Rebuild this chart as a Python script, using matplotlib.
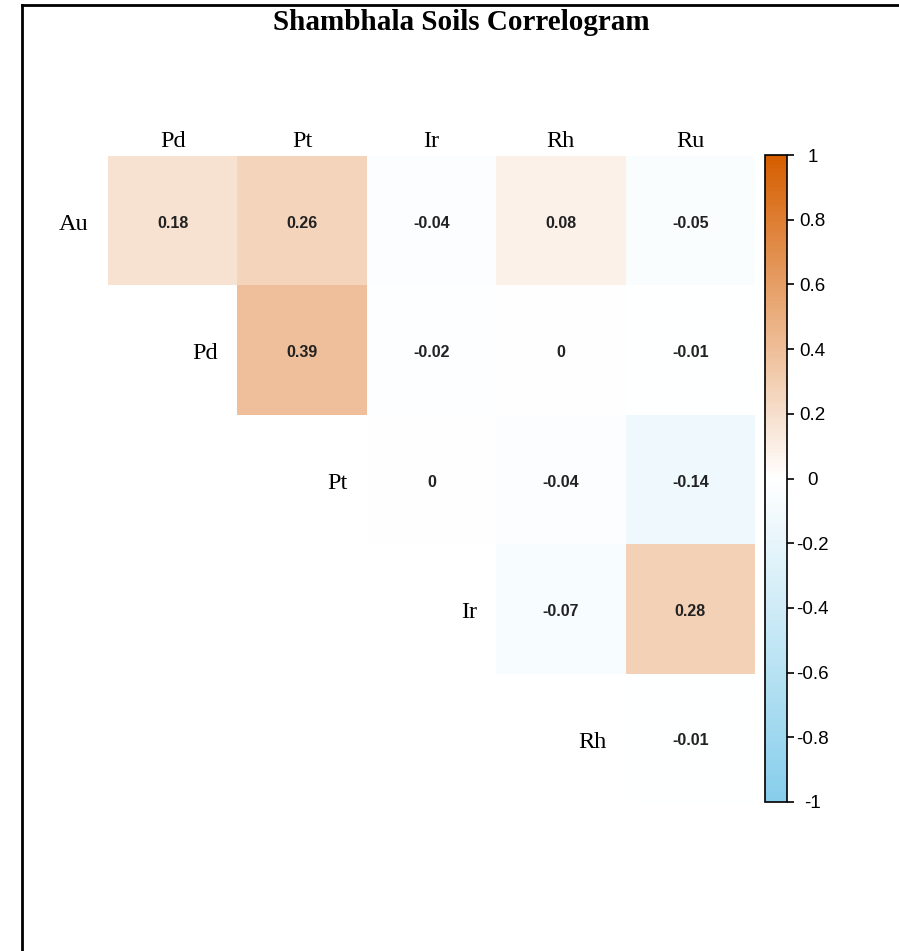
"""Shambhala soils correlogram (upper triangle, corrplot style)."""

import matplotlib

matplotlib.use("Agg")

import matplotlib.pyplot as plt
import numpy as np
from matplotlib.colors import LinearSegmentedColormap
from matplotlib.lines import Line2D

TITLE = "Shambhala Soils Correlogram"
ROW_LABELS = ["Au", "Pd", "Pt", "Ir", "Rh"]
COL_LABELS = ["Pd", "Pt", "Ir", "Rh", "Ru"]

# upper-triangle correlations, one list per row, starting at the diagonal column
AU = [0.18, 0.26, -0.04, 0.08, -0.05]
PD = [0.39, -0.02, 0.0, -0.01]
PT = [0.0, -0.04, -0.14]
IR = [-0.07, 0.28]
RH = [-0.01]

CBAR_TICKS = [-1, -0.8, -0.6, -0.4, -0.2, 0, 0.2, 0.4, 0.6, 0.8, 1]

SERIF = ["Liberation Serif", "DejaVu Serif"]
SANS = ["Liberation Sans", "DejaVu Sans"]


def build_matrix():
    n = len(ROW_LABELS)
    mat = np.full((n, n), np.nan)
    for i, row in enumerate([AU, PD, PT, IR, RH]):
        mat[i, i:i + len(row)] = row
    return np.ma.masked_invalid(mat)


def main():
    mat = build_matrix()
    n = mat.shape[0]
    cmap = LinearSegmentedColormap.from_list(
        "corr", ["#87CEEB", "#FFFFFF", "#D55E00"], N=200
    )

    fig = plt.figure(figsize=(8.99, 9.51), dpi=100)

    # frame of the original screenshot (left and top edges)
    fig.add_artist(Line2D([22 / 899, 22 / 899], [0, 1 - 5 / 951], color="black", lw=2))
    fig.add_artist(Line2D([22 / 899, 1], [1 - 5 / 951, 1 - 5 / 951], color="black", lw=2))

    ax = fig.add_axes([108 / 899, 1 - 803 / 951, 647 / 899, 647 / 951])
    mesh = ax.pcolormesh(
        np.arange(n + 1), np.arange(n + 1), mat, cmap=cmap, vmin=-1, vmax=1
    )
    ax.set_xlim(0, n)
    ax.set_ylim(n, 0)
    ax.set_axis_off()

    for i in range(n):
        for j in range(n):
            if mat.mask[i, j]:
                continue
            val = float(mat[i, j])
            txt = f"{val:.2f}".rstrip("0").rstrip(".") if val != 0 else "0"
            ax.text(j + 0.5, i + 0.52, txt, ha="center", va="center",
                    fontsize=11.5, fontweight="bold", family=SANS, color="#222222")

    # column labels on top, row labels left of the diagonal
    for j, lab in enumerate(COL_LABELS):
        ax.text(j + 0.5, -0.03, lab, ha="center", va="bottom",
                fontsize=17.5, family=SERIF)
    for i, lab in enumerate(ROW_LABELS):
        ax.text(i - 0.15, i + 0.53, lab, ha="right", va="center",
                fontsize=17.5, family=SERIF)

    cax = fig.add_axes([765 / 899, 1 - 802 / 951, 22 / 899, 647 / 951])
    cbar = fig.colorbar(mesh, cax=cax, ticks=CBAR_TICKS)
    cbar.outline.set_linewidth(1.2)
    cbar.ax.tick_params(length=5, width=1.2, labelsize=13.5, pad=13.5)
    cbar.ax.set_yticklabels([f"{t:g}" for t in CBAR_TICKS], family=SANS)
    for lab in cbar.ax.get_yticklabels():
        lab.set_horizontalalignment("center")

    fig.text(461 / 899, 1 - 22 / 951, TITLE, ha="center", va="center",
             fontsize=21, fontweight="bold", family=SERIF)

    fig.savefig("out.png", dpi=100)
    plt.close(fig)


if __name__ == "__main__":
    main()
